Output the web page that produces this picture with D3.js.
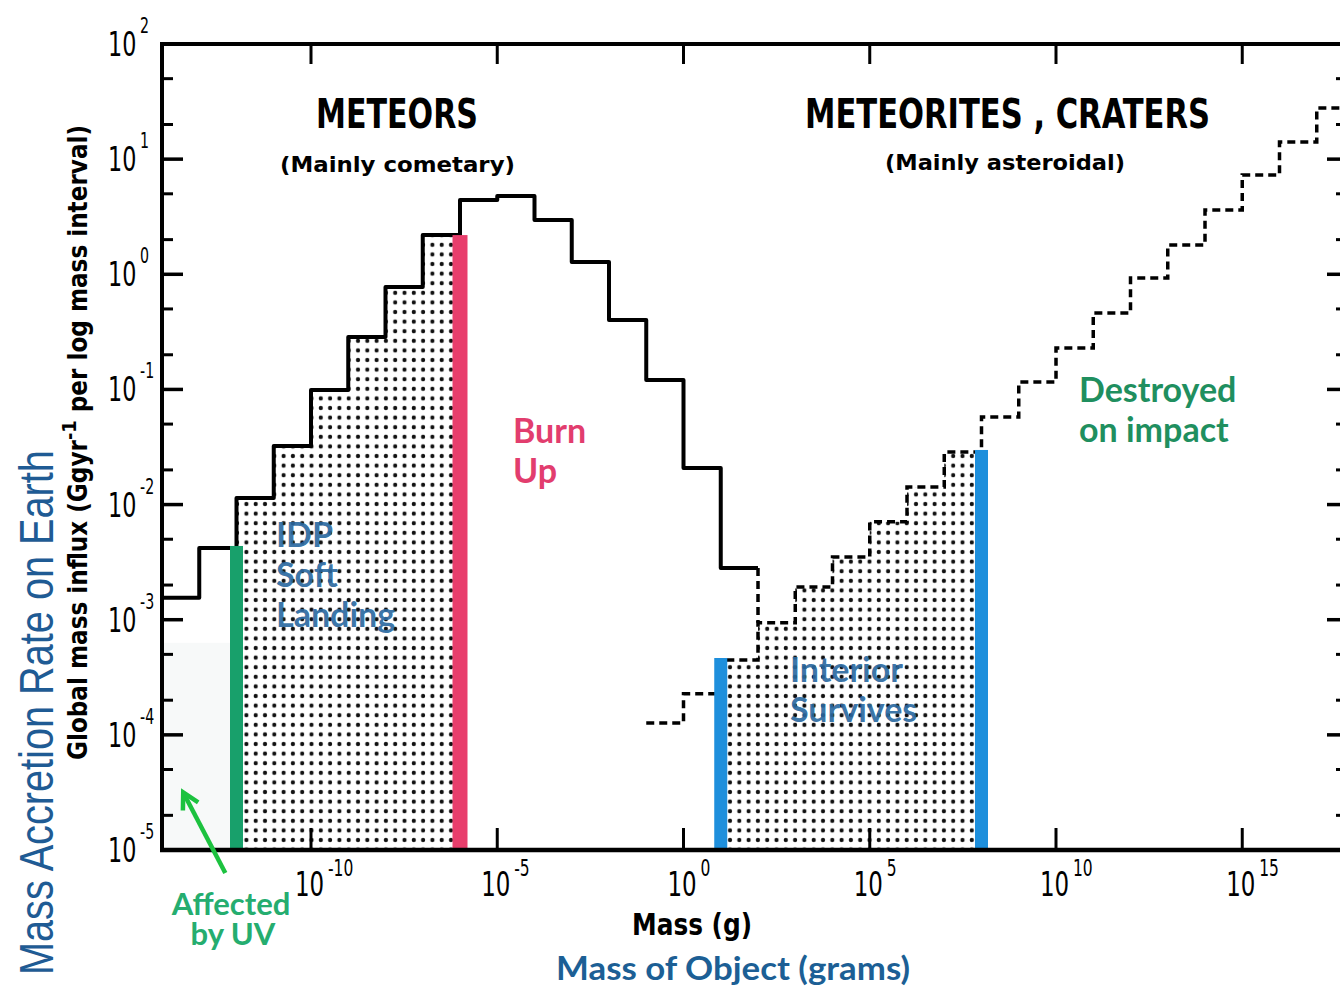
<!DOCTYPE html>
<html>
<head>
<meta charset="utf-8">
<script src="https://cdn.jsdelivr.net/npm/d3@7"></script>
<style>
  html, body { margin: 0; padding: 0; background: #fff; }
  svg { display: block; }
</style>
</head>
<body>
<svg id="chart"></svg>
<script>
// mass bins are one decade wide, named by the exponent of their lower edge
const meteorExp = [-14, -13, -12, -11, -10, -9, -8, -7, -6, -5, -4, -3, -2, -1, 0, 1];
const meteorFlux = [1.55e-3, 4.2e-3, 0.0114, 0.0323, 0.099, 0.285, 0.776, 2.19, 4.42, 4.79, 2.96, 1.28, 0.40, 0.121, 0.0208, 0.00281];
const meteoriteExp = [-1, 0, 1, 2, 3, 4, 5, 6, 7, 8, 9, 10, 11, 12, 13, 14, 15, 16, 17];
const meteoriteFlux = [1.27e-4, 2.27e-4, 4.47e-4, 9.4e-4, 1.92e-3, 3.5e-3, 7.1e-3, 0.0142, 0.0286, 0.0577, 0.116, 0.229, 0.461, 0.93, 1.80, 3.62, 7.3, 14.1, 27.8];

// coloured threshold bars (mass, top value)
const barMass = [1e-12, 1e-6, 1e1, 1e8];
const barTop = [4.37e-3, 2.19, 4.65e-4, 0.0298];
const barColor = ["#18a06b", "#e83e6c", "#1e8fdc", "#1e8fdc"];

const yTickExp = [2, 1, 0, -1, -2, -3, -4, -5];
const xLabelExp = [-10, -5, 0, 5, 10, 15];

const width = 1340, height = 988;
const x = d3.scaleLog().domain([1e-14, 1e18]).range([162, 1354]);
const y = d3.scaleLog().domain([1e-5, 1e2]).range([850, 44]);
const xR = x(1e18);

const scanFont = "'DejaVu Sans Condensed', 'DejaVu Sans', sans-serif";
const overFont = "Lato, 'Open Sans', sans-serif";

const svg = d3.select("#chart").attr("width", width).attr("height", height);

svg.append("defs").append("pattern")
    .attr("id", "dots")
    .attr("patternUnits", "userSpaceOnUse")
    .attr("width", 9.3).attr("height", 9.6)
    .append("circle")
    .attr("cx", 4.6).attr("cy", 4.8).attr("r", 2.1)
    .attr("fill", "#111");

function steps(exps, vals) {
    return exps.flatMap((e, i) => [[Math.pow(10, e), vals[i]], [Math.pow(10, e + 1), vals[i]]]);
}
const area = d3.area().x(d => x(d[0])).y0(y(1e-5)).y1(d => y(d[1]));
const line = d3.line().x(d => x(d[0])).y(d => y(d[1]));

// faint UV zone
svg.append("rect")
    .attr("x", x(1e-14) + 2).attr("y", y(6.3e-4))
    .attr("width", x(barMass[0]) - x(1e-14) - 8)
    .attr("height", y(1e-5) - y(6.3e-4))
    .attr("fill", "#f7f9f9");

// stippled regions
svg.append("path")
    .attr("d", area(steps(meteorExp.slice(2, 8), meteorFlux.slice(2, 8))))
    .attr("fill", "url(#dots)");
svg.append("path")
    .attr("d", area(steps(meteoriteExp.slice(2, 9), meteoriteFlux.slice(2, 9))))
    .attr("fill", "url(#dots)");

// meteor histogram (solid)
svg.append("path")
    .attr("d", line(steps(meteorExp, meteorFlux)))
    .attr("fill", "none").attr("stroke", "#000")
    .attr("stroke-width", 4).attr("stroke-linejoin", "round");

// meteorite histogram (dashed)
svg.append("path")
    .attr("d", line(steps(meteoriteExp, meteoriteFlux)))
    .attr("fill", "none").attr("stroke", "#000")
    .attr("stroke-width", 3.5).attr("stroke-dasharray", "8,5");
svg.append("path")
    .attr("d", line([[1e2, meteorFlux[meteorFlux.length - 1]], [1e2, meteoriteFlux[3]]]))
    .attr("fill", "none").attr("stroke", "#000")
    .attr("stroke-width", 3.5).attr("stroke-dasharray", "8,5");

// threshold bars
svg.selectAll("rect.bar")
    .data(barMass)
    .join("rect")
    .attr("class", "bar")
    .attr("x", (d, i) => x(d) - (i === 1 ? 7.5 : 6.5))
    .attr("width", (d, i) => i === 1 ? 15 : 13)
    .attr("y", (d, i) => y(barTop[i]))
    .attr("height", (d, i) => y(1e-5) - y(barTop[i]))
    .attr("fill", (d, i) => barColor[i]);

// axes frame
const ax = svg.append("g").attr("stroke", "#000").attr("fill", "none");
ax.append("line").attr("x1", 162).attr("x2", 162).attr("y1", 42).attr("y2", 852).attr("stroke-width", 4);
ax.append("line").attr("x1", 160).attr("x2", xR).attr("y1", 44).attr("y2", 44).attr("stroke-width", 4);
ax.append("line").attr("x1", 160).attr("x2", xR).attr("y1", 850).attr("y2", 850).attr("stroke-width", 4.5);
ax.append("line").attr("x1", xR).attr("x2", xR).attr("y1", 42).attr("y2", 852).attr("stroke-width", 4);

// y ticks, majors at decades, minors at 2 and 5
const yMinor = [];
yTickExp.slice(1).forEach(e => { yMinor.push(2 * Math.pow(10, e), 5 * Math.pow(10, e)); });
const rTick = 1340;
yTickExp.forEach(e => {
    const v = y(Math.pow(10, e));
    ax.append("line").attr("x1", 162).attr("x2", 183).attr("y1", v).attr("y2", v).attr("stroke-width", 3.5);
    ax.append("line").attr("x1", rTick + 2).attr("x2", rTick - 13).attr("y1", v).attr("y2", v).attr("stroke-width", 3.5);
});
yMinor.forEach(m => {
    ax.append("line").attr("x1", 162).attr("x2", 173).attr("y1", y(m)).attr("y2", y(m)).attr("stroke-width", 3);
    ax.append("line").attr("x1", rTick + 2).attr("x2", rTick - 4).attr("y1", y(m)).attr("y2", y(m)).attr("stroke-width", 3);
});

// x ticks every decade, long every five
x.ticks().filter(t => Math.abs(Math.log10(t) - Math.round(Math.log10(t))) < 1e-9).forEach(t => {
    const e = Math.round(Math.log10(t));
    if (e <= -14 || e >= 18) return;
    const major = e % 5 === 0;
    ax.append("line").attr("x1", x(t)).attr("x2", x(t))
        .attr("y1", 850).attr("y2", 850 - (major ? 22 : 11)).attr("stroke-width", major ? 3 : 2.5);
    ax.append("line").attr("x1", x(t)).attr("x2", x(t))
        .attr("y1", 44).attr("y2", 44 + (major ? 20 : 9)).attr("stroke-width", major ? 3 : 2.5);
});

function txt(px, py, s, o) {
    const t = svg.append("text")
        .attr("x", px).attr("y", py)
        .attr("font-family", o.font || scanFont)
        .attr("font-size", o.size)
        .attr("font-weight", o.weight || "normal")
        .attr("fill", o.color || "#000")
        .attr("text-anchor", o.anchor || "start")
        .text(s);
    if (o.len) t.attr("textLength", o.len).attr("lengthAdjust", "spacingAndGlyphs");
    if (o.opacity) t.attr("fill-opacity", o.opacity);
    return t;
}

// power-of-ten label: one text, "10" plus raised exponent, squeezed like the scan
function pow10(px, py, e, size, supSize, rise) {
    const t = svg.append("text")
        .attr("transform", `translate(${px},${py}) scale(0.75,1)`)
        .attr("font-family", scanFont)
        .attr("fill", "#000");
    t.append("tspan").attr("font-size", size).text("10");
    t.append("tspan").attr("font-size", supSize).attr("dx", 5).attr("dy", -rise).text(String(e));
}

yTickExp.forEach(e => pow10(108, y(Math.pow(10, e)) + 12, e, 33, 21, 23));
xLabelExp.forEach(e => pow10(x(Math.pow(10, e)) - 16, 896, e, 34, 23, 20));

// original figure texts
txt(316, 128, "METEORS", { size: 40, weight: "bold", len: 162 });
txt(805, 128, "METEORITES , CRATERS", { size: 40, weight: "bold", len: 405 });
txt(280, 172, "(Mainly cometary)", { size: 22, weight: "bold", len: 235 });
txt(885, 170, "(Mainly asteroidal)", { size: 22, weight: "bold", len: 240 });
txt(632, 935, "Mass (g)", { size: 30, weight: "bold", len: 120 });

const yl = svg.append("text")
    .attr("transform", "translate(87,760) rotate(-90)")
    .attr("font-family", scanFont).attr("font-size", 26).attr("font-weight", "bold")
    .attr("textLength", 635).attr("lengthAdjust", "spacingAndGlyphs");
yl.append("tspan").text("Global mass influx (Ggyr");
yl.append("tspan").attr("dy", -11).attr("font-size", 20).text("-1");
yl.append("tspan").attr("dy", 11).text(" per log mass interval)");

// overlay annotations
txt(513, 443, "Burn", { font: overFont, size: 34, weight: "bold", color: "#e23d6e" });
txt(513, 483, "Up", { font: overFont, size: 34, weight: "bold", color: "#e23d6e" });
["IDP", "Soft", "Landing"].forEach((s, i) =>
    txt(276, 547 + i * 40, s, { font: overFont, size: 34, weight: "bold", color: "#2a68a0", opacity: 0.92 }));
["Interior", "Survives"].forEach((s, i) =>
    txt(790, 682 + i * 40, s, { font: overFont, size: 34, weight: "bold", color: "#2a68a0", opacity: 0.92 }));
txt(1079, 402, "Destroyed", { font: overFont, size: 34, weight: "bold", color: "#1f8f5f" });
txt(1079, 442, "on impact", { font: overFont, size: 34, weight: "bold", color: "#1f8f5f" });

const uv = svg.append("text")
    .attr("font-family", overFont).attr("font-size", 31).attr("font-weight", "bold")
    .attr("fill", "#25ad6f").attr("text-anchor", "middle");
uv.append("tspan").attr("x", 231).attr("y", 915).text("Affected");
uv.append("tspan").attr("x", 233).attr("y", 945).text("by UV");

txt(556, 980, "Mass of Object (grams)", { font: overFont, size: 32, weight: "bold", color: "#1c5f95", len: 354 });

svg.append("text")
    .attr("transform", "translate(53,975) rotate(-90) scale(0.81,1)")
    .attr("font-family", "'Liberation Sans', Arial, sans-serif")
    .attr("font-size", 49)
    .attr("fill", "#1f5b94")
    .text("Mass Accretion Rate on Earth");

// arrow toward the UV zone
const tail = [x(Math.pow(10, -12.3)), y(Math.pow(10, -5.2))];
const tip = [x(Math.pow(10, -13.43)), y(Math.pow(10, -4.5))];
const dx = tip[0] - tail[0], dy = tip[1] - tail[1], L = Math.hypot(dx, dy);
const ux = dx / L, uy = dy / L;
function rot(a) { return [ux * Math.cos(a) - uy * Math.sin(a), ux * Math.sin(a) + uy * Math.cos(a)]; }
const h1 = rot(0.5), h2 = rot(-0.5);
svg.append("line")
    .attr("x1", tail[0]).attr("y1", tail[1]).attr("x2", tip[0] - ux * 2).attr("y2", tip[1] - uy * 2)
    .attr("stroke", "#1cc23f").attr("stroke-width", 4.5);
svg.append("polyline")
    .attr("points", [[tip[0] - h1[0] * 18, tip[1] - h1[1] * 18], tip, [tip[0] - h2[0] * 18, tip[1] - h2[1] * 18]].map(p => p.join(",")).join(" "))
    .attr("fill", "none").attr("stroke", "#1cc23f").attr("stroke-width", 4.5)
    .attr("stroke-linejoin", "miter");
</script>
</body>
</html>
